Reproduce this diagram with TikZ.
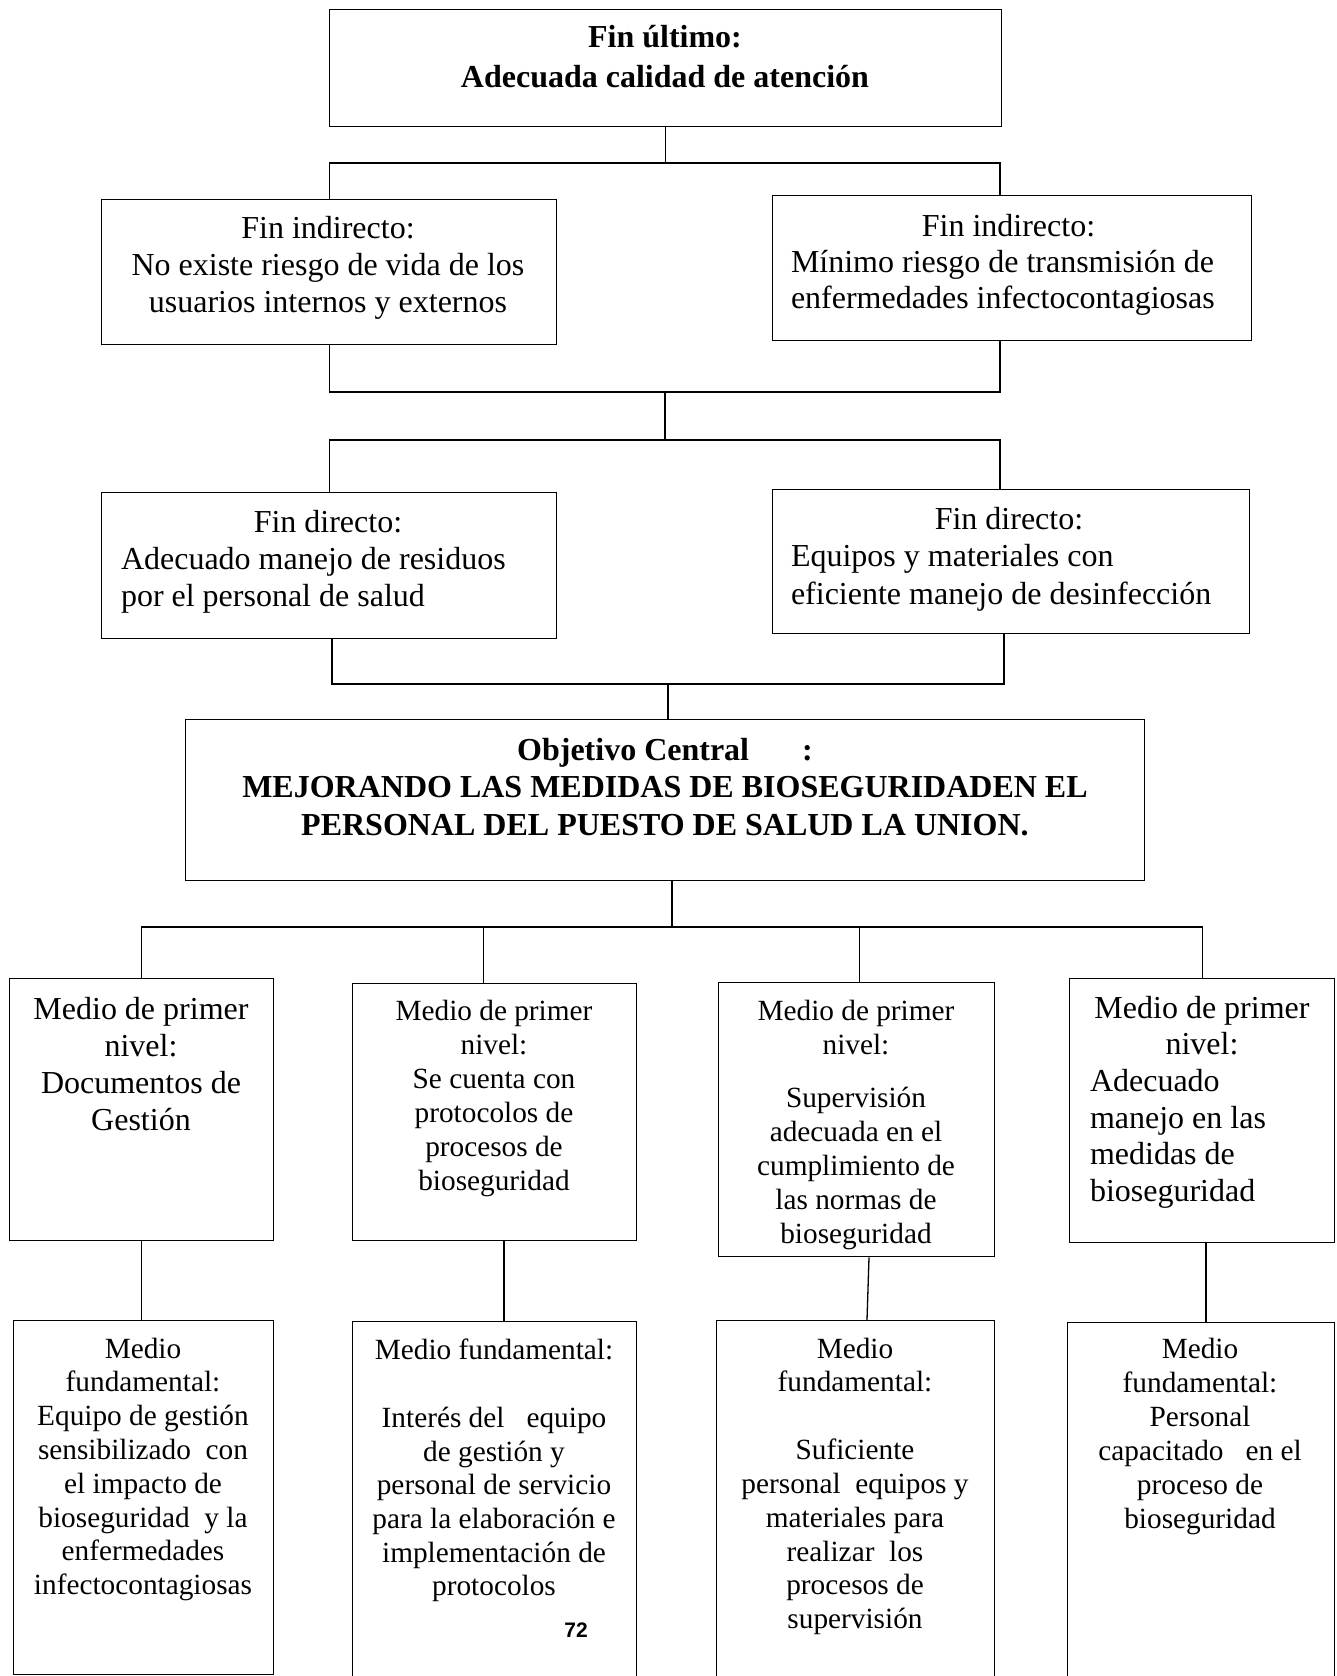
\documentclass[tikz,border=0pt]{standalone}
\usepackage{fontspec}
\setmainfont{Liberation Serif}
\newfontfamily\arialfont{Liberation Sans}

\newcommand{\grande}{\fontsize{32}{37}\selectfont}
\newcommand{\chica}{\fontsize{29.3}{33.8}\selectfont}

\begin{document}
\begin{tikzpicture}[x=1pt, y=-1pt, line width=1.3pt,
    caja/.style={draw, anchor=north west, inner sep=0pt},
    texto/.style={anchor=base, align=flush center, inner sep=0pt},
    textoizq/.style={anchor=base, align=flush left, inner sep=0pt}]

        \useasboundingbox (0,0) rectangle (1337,1676);

        % --- Cajas ---
        \node[caja, minimum width=672pt, minimum height=117pt] (fu) at (329,9) {};
        \node[caja, minimum width=455pt, minimum height=145pt] (fi1) at (101,199) {};
        \node[caja, minimum width=479pt, minimum height=145pt] (fi2) at (772,195) {};
        \node[caja, minimum width=455pt, minimum height=146pt] (fd1) at (101,492) {};
        \node[caja, minimum width=477pt, minimum height=144pt] (fd2) at (772,489) {};
        \node[caja, minimum width=959pt, minimum height=161pt] (oc) at (185,719) {};
        \node[caja, minimum width=264pt, minimum height=262pt] (m1) at (9,978) {};
        \node[caja, minimum width=284pt, minimum height=257pt] (m2) at (352,983) {};
        \node[caja, minimum width=276pt, minimum height=274pt] (m3) at (718,982) {};
        \node[caja, minimum width=265pt, minimum height=264pt] (m4) at (1069,978) {};
        \node[caja, minimum width=260pt, minimum height=354pt] (mf1) at (13,1320) {};
        \node[caja, minimum width=284pt, minimum height=370pt] (mf2) at (352,1321) {};
        \node[caja, minimum width=278pt, minimum height=370pt] (mf3) at (716,1320) {};
        \node[caja, minimum width=267pt, minimum height=370pt] (mf4) at (1067,1322) {};

        % --- Textos de los fines ---
        \node[texto, text width=660pt, font=\bfseries\fontsize{32}{40}\selectfont] (fuT) at (665,47)
            {Fin último:\\Adecuada calidad de atención};
        \node[texto, text width=450pt, font=\grande] (fi1T) at (328,238)
            {Fin indirecto:\\No existe riesgo de vida de los\\usuarios internos y externos};
        \node[textoizq, text width=435pt, font=\fontsize{32}{36}\selectfont] (fi2T) at (1008.5,236)
            {\makebox[\linewidth]{Fin indirecto:}\\Mínimo riesgo de transmisión de\\enfermedades infectocontagiosas};
        \node[textoizq, text width=414pt, font=\grande] (fd1T) at (328,532)
            {\makebox[\linewidth]{Fin directo:}\\Adecuado manejo de residuos\\por el personal de salud};
        \node[textoizq, text width=436pt, font=\fontsize{32}{37.5}\selectfont] (fd2T) at (1009,529)
            {\makebox[\linewidth]{Fin directo:}\\Equipos y materiales con\\eficiente manejo de desinfección};

        % --- Objetivo central ---
        \node[texto, text width=950pt, font=\bfseries\fontsize{32}{37.5}\selectfont] (ocT) at (665,760)
            {Objetivo Central\hspace{53pt}:\\MEJORANDO LAS MEDIDAS DE BIOSEGURIDADEN EL\\PERSONAL DEL PUESTO DE SALUD LA UNION.};

        % --- Medios de primer nivel ---
        \node[texto, text width=260pt, font=\grande] (m1T) at (141,1019)
            {Medio de primer\\nivel:\\Documentos de\\Gestión};
        \node[texto, text width=280pt, font=\fontsize{29.3}{34}\selectfont] (m2T) at (494,1020)
            {Medio de primer\\nivel:\\Se cuenta con\\protocolos de\\procesos de\\bioseguridad};
        \begin{scope}
            \clip (718,982) rectangle (994,1250);
            \node[texto, text width=272pt, font=\fontsize{29.3}{34}\selectfont] (m3T) at (856,1020)
                {Medio de primer\\nivel:\\[19pt]Supervisión\\adecuada en el\\cumplimiento de\\las normas de\\bioseguridad};
        \end{scope}
        \node[textoizq, text width=224pt, font=\fontsize{32}{36.7}\selectfont] (m4T) at (1202,1018)
            {\makebox[\linewidth]{Medio de primer}\\\makebox[\linewidth]{nivel:}\\Adecuado\\manejo en las\\medidas de\\bioseguridad};

        % --- Medios fundamentales ---
        \node[texto, text width=256pt, font=\chica] (mf1T) at (143,1358)
            {Medio\\fundamental:\\Equipo de gestión\\sensibilizado\ \ con\\el impacto de\\bioseguridad\ \ y la\\enfermedades\\infectocontagiosas};
        \node[texto, text width=280pt, font=\fontsize{29.3}{33.6}\selectfont] (mf2T) at (494,1359)
            {Medio fundamental:\\[35pt]Interés del\ \ \ equipo\\de gestión y\\personal de servicio\\para la elaboración e\\implementación de\\protocolos};
        \node[texto, text width=274pt, font=\chica] (mf3T) at (855,1358)
            {Medio\\fundamental:\\[34pt]Suficiente\\personal\ \ equipos y\\materiales para\\realizar\ \ los\\procesos de\\supervisión};
        \node[texto, text width=263pt, font=\fontsize{29.3}{34}\selectfont] (mf4T) at (1200,1358)
            {Medio\\fundamental:\\Personal\\capacitado\ \ \ en el\\proceso de\\bioseguridad};

        % numero de pagina
        \node[anchor=base, inner sep=0pt, font=\arialfont\bfseries\fontsize{21}{24}\selectfont] (pag) at (576,1637) {72};

        % --- Conectores ---
        % fin ultimo - fines indirectos
        \coordinate (b1) at (1000,163);
        \draw (fu.south) -- (fu.south |- b1);
        \draw (fi1.north) |- (b1) -- (b1 |- fi2.north);

        % fines indirectos - fines directos
        \coordinate (b2) at (1000,392);
        \coordinate (b2c) at (665,392);
        \coordinate (b3) at (1000,440);
        \draw (fi1.south) |- (b2) -- (b2 |- fi2.south);
        \draw (b2c) -- (b2c |- b3);
        \draw (fd1.north) |- (b3) -- (b3 |- fd2.north);

        % fines directos - objetivo central
        \coordinate (b4l) at (332,684);
        \coordinate (b4r) at (1004,684);
        \coordinate (b4c) at (668,684);
        \draw (b4l |- fd1.south) -- (b4l) -- (b4r) -- (b4r |- fd2.south);
        \draw (b4c) -- (b4c |- oc.north);

        % objetivo central - medios de primer nivel
        \coordinate (b5) at (672,927);
        \coordinate (p2) at (483.5,927);
        \coordinate (p3) at (859.5,927);
        \draw (b5 |- oc.south) -- (b5);
        \draw (m1.north) |- (m4.north |- b5) -- (m4.north);
        \draw (p2) -- (p2 |- m2.north);
        \draw (p3) -- (p3 |- m3.north);

        % medios de primer nivel - medios fundamentales
        \coordinate (q2) at (504,0);
        \coordinate (q3a) at (869,0);
        \coordinate (q3b) at (867,0);
        \coordinate (q4) at (1206,0);
        \draw (m1.south) -- (m1.south |- mf1.north);
        \draw (q2 |- m2.south) -- (q2 |- mf2.north);
        \draw (q3a |- m3.south) -- (q3b |- mf3.north);
        \draw (q4 |- m4.south) -- (q4 |- mf4.north);

    \end{tikzpicture}
\end{document}
